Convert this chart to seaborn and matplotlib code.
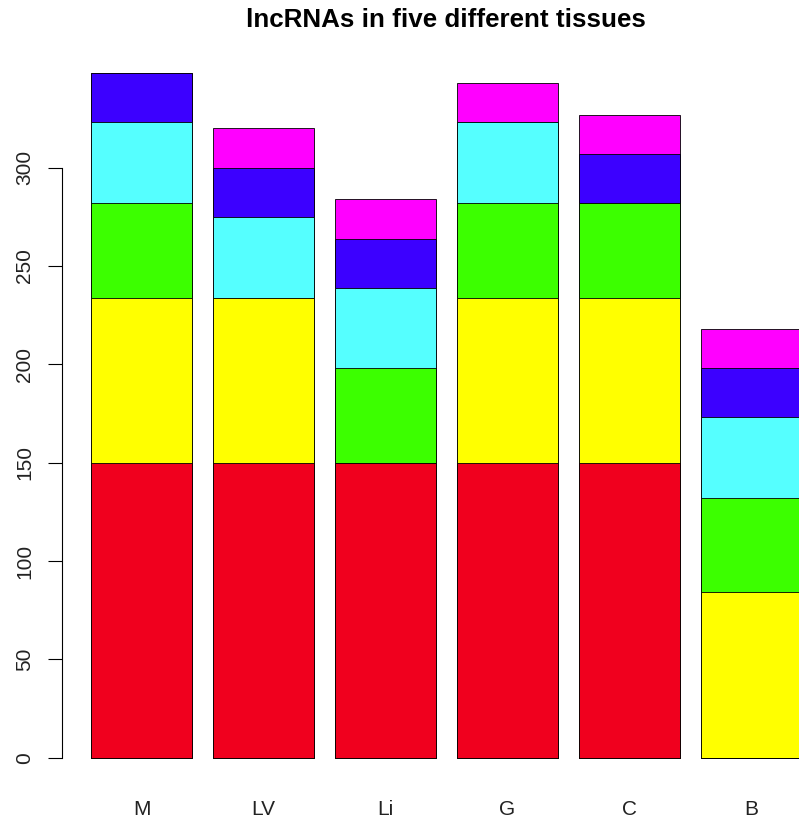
import pandas as pd
import seaborn as sns
import matplotlib.pyplot as plt

# Data (stacked counts per tissue)
tissues = ["M", "LV", "Li", "G", "C", "B"]
red = [150, 150, 150, 150, 150, 0]
yellow = [84, 84, 0, 84, 84, 84]
green = [48, 0, 48, 48, 48, 48]
cyan = [41, 41, 41, 41, 0, 41]
blue = [25, 25, 25, 0, 25, 25]
magenta = [0, 20, 20, 20, 20, 20]
layer_colors = ["#F0001E", "#FFFF00", "#3CFF00", "#55FFFF", "#3C00FF", "#FF00FF"]

df = pd.DataFrame({"red": red, "yellow": yellow, "green": green,
                   "cyan": cyan, "blue": blue, "magenta": magenta}, index=tissues)
cum = df.cumsum(axis=1)

sns.set_style("white")
plt.rcParams["font.family"] = ["Liberation Sans", "DejaVu Sans"]

fig = plt.figure(figsize=(7.99, 8.24), dpi=100)
ax = fig.add_axes([62 / 799, 39 / 824, 1 - 62 / 799, (785 - 46) / 824])

# draw cumulative bars from the top layer down so each segment shows
for col, c in reversed(list(zip(cum.columns, layer_colors))):
    sns.barplot(x=tissues, y=cum[col].values, color=c, saturation=1,
                width=1 / 1.2, edgecolor="black", linewidth=0.6, ax=ax)

ax.set_xlim(-0.652, 5.389)
ax.set_ylim(-13.9, 361.9)
for s in ["top", "right", "bottom"]:
    ax.spines[s].set_visible(False)
ax.spines["left"].set_bounds(0, 300)
ax.spines["left"].set_color("black")
ax.spines["left"].set_linewidth(0.8)

ax.set_yticks(range(0, 301, 50))
ax.set_yticklabels([str(v) for v in range(0, 301, 50)], rotation=90, va="center",
                   fontsize=15, color="#222222")
ax.tick_params(axis="y", left=True, length=10, width=0.8, pad=10, color="black")
ax.tick_params(axis="x", length=0, pad=11, labelsize=15, labelcolor="#222222")
ax.set_xlabel("")
ax.set_ylabel("")

fig.text(446 / 799, 1 - 20 / 824, "lncRNAs in five different tissues",
         ha="center", va="center", fontsize=18.7, fontweight="bold", color="black")

fig.savefig("out.png", dpi=100)
